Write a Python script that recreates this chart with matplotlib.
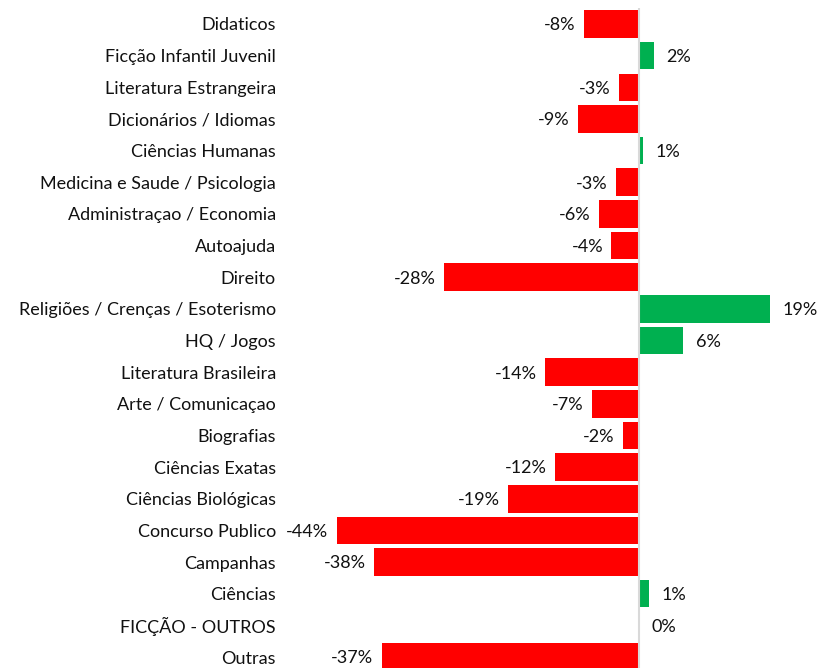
import matplotlib.pyplot as plt

plt.rcParams['font.family'] = ['Lato', 'DejaVu Sans']

categories = [
    "Didaticos", "Ficção Infantil Juvenil", "Literatura Estrangeira",
    "Dicionários / Idiomas", "Ciências Humanas", "Medicina e Saude / Psicologia",
    "Administraçao / Economia", "Autoajuda", "Direito",
    "Religiões / Crenças / Esoterismo", "HQ / Jogos", "Literatura Brasileira",
    "Arte / Comunicaçao", "Biografias", "Ciências Exatas", "Ciências Biológicas",
    "Concurso Publico", "Campanhas", "Ciências", "FICÇÃO - OUTROS", "Outras",
]
# variation in %
variation = [
    -8.0, 2.2, -2.9, -8.8, 0.6, -3.4, -5.8, -4.0, -28.2, 19.0, 6.4,
    -13.6, -6.8, -2.3, -12.2, -19.0, -43.8, -38.4, 1.5, 0.0, -37.3,
]
labels = ["-8%", "2%", "-3%", "-9%", "1%", "-3%", "-6%", "-4%", "-28%", "19%", "6%",
          "-14%", "-7%", "-2%", "-12%", "-19%", "-44%", "-38%", "1%", "0%", "-37%"]

W, H = 819, 668
fig = plt.figure(figsize=(W / 100, H / 100), dpi=100)

# axes placed in pixels: zero line at x=639, ~6.9 px per percent
left, right = 285, 810
row = 31.65
top = 24 - row / 2
bottom = 657 + row / 2
ax = fig.add_axes([left / W, 1 - bottom / H, (right - left) / W, (bottom - top) / H])

colors = ["#00B050" if v > 0 else "#FF0000" for v in variation]
ypos = list(range(len(categories)))
ax.barh(ypos, variation, height=0.87, color=colors, zorder=2)
ax.axvline(0, color="#d9d9d9", lw=1.5, zorder=3)

for y, v, lab in zip(ypos, variation, labels):
    if v < 0:
        ax.annotate(lab, (v, y), xytext=(-6, -1), textcoords="offset points",
                    ha="right", va="center", fontsize=13, color="#111111")
    else:
        ax.annotate(lab, (v, y), xytext=(9, -1), textcoords="offset points",
                    ha="left", va="center", fontsize=13, color="#111111")

ax.set_xlim(-(639 - left) / 6.9, (right - 639) / 6.9)
ax.set_ylim(len(categories) - 0.5, -0.5)
ax.set_yticks(ypos)
ax.set_yticklabels(categories, fontsize=13, color="#111111")
ax.tick_params(axis="y", length=0, pad=6.5)
ax.set_xticks([])
for s in ax.spines.values():
    s.set_visible(False)

fig.savefig("out.png", dpi=100)
